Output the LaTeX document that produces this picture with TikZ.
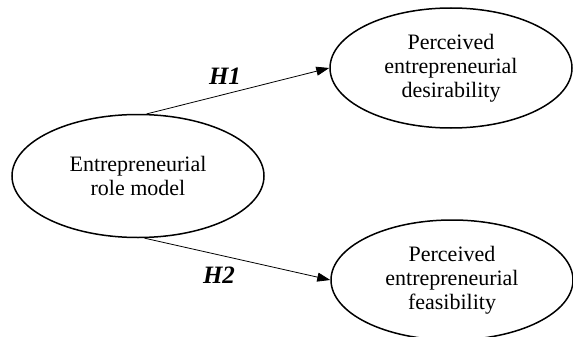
\documentclass[tikz,border=0pt]{standalone}
\usepackage{fontspec}
\setmainfont{Liberation Serif}
\usetikzlibrary{shapes.geometric,arrows.meta}
\begin{document}
\begin{tikzpicture}[x=1pt,y=-1pt,
  construct/.style={ellipse, draw, line width=1.5pt, inner sep=0pt, align=center,
    font=\fontsize{22}{24}\selectfont},
  path/.style={line width=0.8pt, -{Triangle[length=13pt,width=9pt]}},
  hyp/.style={font=\fontsize{25}{28}\selectfont\bfseries\itshape}]
\useasboundingbox (0,0) rectangle (573,337);
\node[construct, minimum width=252pt, minimum height=123pt] (L) at (138,176) {Entrepreneurial\\role model};
\node[construct, minimum width=242pt, minimum height=120pt] (T) at (451,68) {Perceived\\entrepreneurial\\desirability};
\node[construct, minimum width=242pt, minimum height=120pt] (B) at (452,280) {Perceived\\entrepreneurial\\feasibility};
\draw[path] (L.82) -- (T.west);
\draw[path] (L.-84) -- (B.west);
\node[hyp] (h1) at (225,76) {H1};
\node[hyp] (h2) at (219,275) {H2};
\end{tikzpicture}
\end{document}
